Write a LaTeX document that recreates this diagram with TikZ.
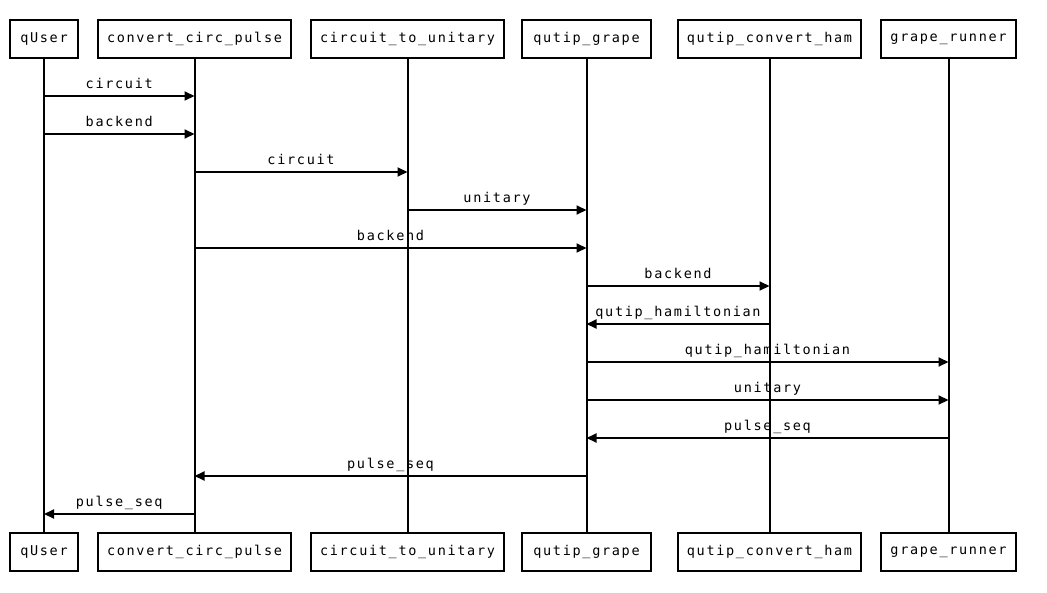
\documentclass[tikz,border=0pt]{standalone}
\usepackage{fontspec}
\usetikzlibrary{arrows.meta}
\newfontfamily\seqmono[LetterSpace=12.5]{DejaVu Sans Mono}
\tikzset{
  actor/.style={draw, line width=2pt, minimum height=38pt, inner sep=0pt, font=\seqmono\fontsize{13.5pt}{15pt}\selectfont},
  life/.style={line width=2pt},
  msg/.style={line width=2pt, -{Triangle[length=10pt,width=9pt]}},
  lbl/.style={midway, anchor=base, yshift=8pt, inner sep=0pt, font=\seqmono\fontsize{13.5pt}{15pt}\selectfont}
}
\begin{document}
\begin{tikzpicture}[x=1pt,y=-1pt]
\fill[white] (0,0) rectangle (1047,592);
\useasboundingbox (0,0) rectangle (1047,592);
% top actors
\node[actor, minimum width=68pt] (tqu) at (44,39) {qUser};
\node[actor, minimum width=193pt] (tccp) at (194.5,39) {convert\_circ\_pulse};
\node[actor, minimum width=193pt] (tctu) at (407.5,39) {circuit\_to\_unitary};
\node[actor, minimum width=129pt] (tqg) at (586.5,39) {qutip\_grape};
\node[actor, minimum width=183pt] (tqch) at (769.5,39) {qutip\_convert\_ham};
\node[actor, minimum width=135pt] (tgr) at (948.5,39) {grape\_runner};
% bottom actors
\node[actor, minimum width=68pt] (bqu) at (44,552) {qUser};
\node[actor, minimum width=193pt] (bccp) at (194.5,552) {convert\_circ\_pulse};
\node[actor, minimum width=193pt] (bctu) at (407.5,552) {circuit\_to\_unitary};
\node[actor, minimum width=129pt] (bqg) at (586.5,552) {qutip\_grape};
\node[actor, minimum width=183pt] (bqch) at (769.5,552) {qutip\_convert\_ham};
\node[actor, minimum width=135pt] (bgr) at (948.5,552) {grape\_runner};
% lifelines
\draw[life] (tqu.south) -- (bqu.north);
\draw[life] (tccp.south) -- (bccp.north);
\draw[life] (tctu.south) -- (bctu.north);
\draw[life] (tqg.south) -- (bqg.north);
\draw[life] (tqch.south) -- (bqch.north);
\draw[life] (tgr.south) -- (bgr.north);
% messages
\draw[msg] (tqu |- 0,96) -- node[lbl]{circuit} (tccp |- 0,96);
\draw[msg] (tqu |- 0,134) -- node[lbl]{backend} (tccp |- 0,134);
\draw[msg] (tccp |- 0,172) -- node[lbl]{circuit} (tctu |- 0,172);
\draw[msg] (tctu |- 0,210) -- node[lbl]{unitary} (tqg |- 0,210);
\draw[msg] (tccp |- 0,248) -- node[lbl]{backend} (tqg |- 0,248);
\draw[msg] (tqg |- 0,286) -- node[lbl]{backend} (tqch |- 0,286);
\draw[msg] (tqch |- 0,324) -- node[lbl]{qutip\_hamiltonian} (tqg |- 0,324);
\draw[msg] (tqg |- 0,362) -- node[lbl]{qutip\_hamiltonian} (tgr |- 0,362);
\draw[msg] (tqg |- 0,400) -- node[lbl]{unitary} (tgr |- 0,400);
\draw[msg] (tgr |- 0,438) -- node[lbl]{pulse\_seq} (tqg |- 0,438);
\draw[msg] (tqg |- 0,476) -- node[lbl]{pulse\_seq} (tccp |- 0,476);
\draw[msg] (tccp |- 0,514) -- node[lbl]{pulse\_seq} (tqu |- 0,514);
\end{tikzpicture}
\end{document}
